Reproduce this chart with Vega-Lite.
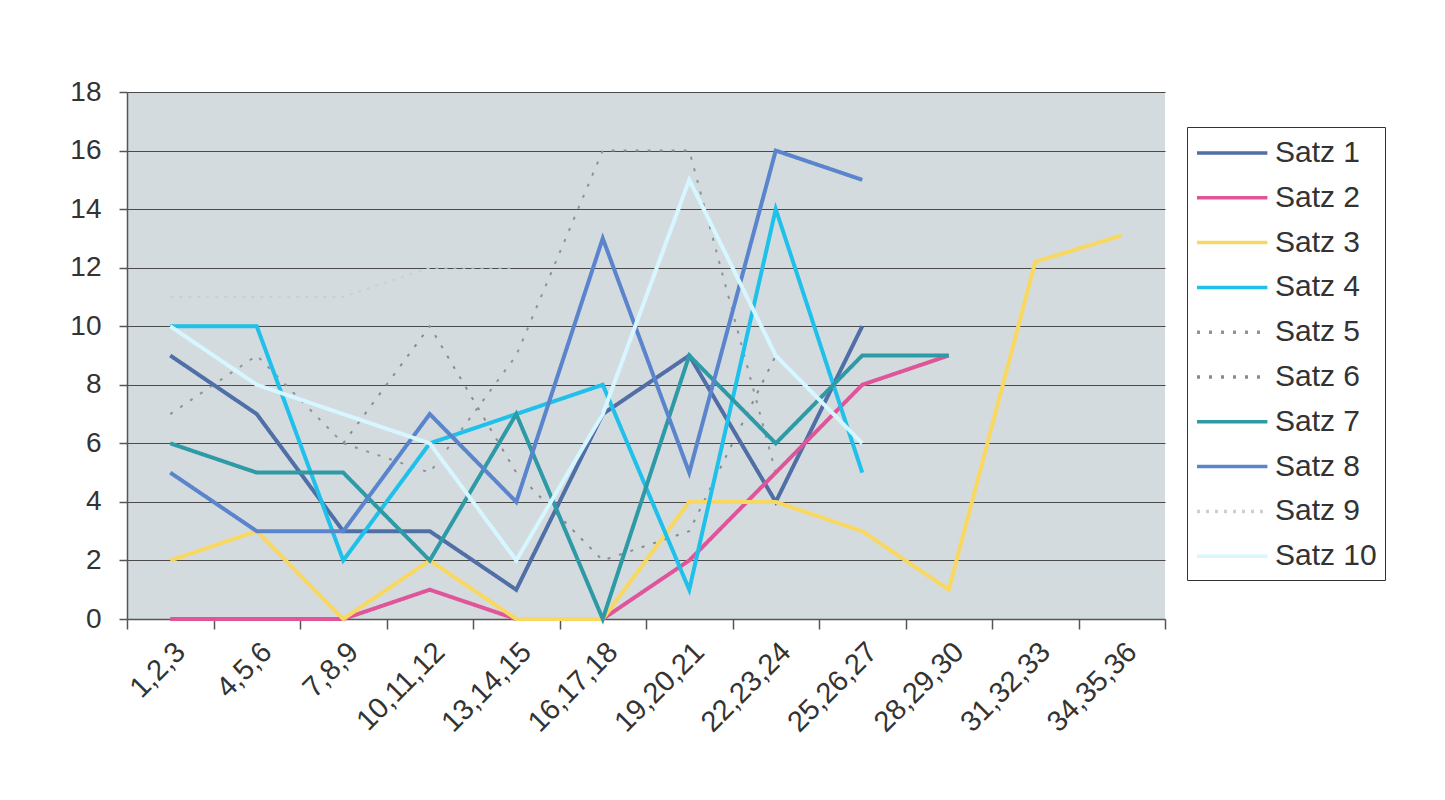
{
  "$schema": "https://vega.github.io/schema/vega-lite/v6.json",
  "width": 1038,
  "height": 527,
  "autosize": {"type": "none"},
  "padding": {"left": 127, "top": 92, "right": 280, "bottom": 181},
  "background": "white",
  "config": {
    "view": {"fill": "#d4dbdf", "stroke": null},
    "font": "Liberation Sans"
  },
  "data": {
    "values": [
      {"s": "Satz 1", "k": "1,2,3", "v": 9}, {"s": "Satz 1", "k": "4,5,6", "v": 7}, {"s": "Satz 1", "k": "7,8,9", "v": 3}, {"s": "Satz 1", "k": "10,11,12", "v": 3}, {"s": "Satz 1", "k": "13,14,15", "v": 1}, {"s": "Satz 1", "k": "16,17,18", "v": 7}, {"s": "Satz 1", "k": "19,20,21", "v": 9}, {"s": "Satz 1", "k": "22,23,24", "v": 4}, {"s": "Satz 1", "k": "25,26,27", "v": 10},
      {"s": "Satz 2", "k": "1,2,3", "v": 0}, {"s": "Satz 2", "k": "4,5,6", "v": 0}, {"s": "Satz 2", "k": "7,8,9", "v": 0}, {"s": "Satz 2", "k": "10,11,12", "v": 1}, {"s": "Satz 2", "k": "13,14,15", "v": 0}, {"s": "Satz 2", "k": "16,17,18", "v": 0}, {"s": "Satz 2", "k": "19,20,21", "v": 2}, {"s": "Satz 2", "k": "22,23,24", "v": 5}, {"s": "Satz 2", "k": "25,26,27", "v": 8}, {"s": "Satz 2", "k": "28,29,30", "v": 9},
      {"s": "Satz 3", "k": "1,2,3", "v": 2}, {"s": "Satz 3", "k": "4,5,6", "v": 3}, {"s": "Satz 3", "k": "7,8,9", "v": 0}, {"s": "Satz 3", "k": "10,11,12", "v": 2}, {"s": "Satz 3", "k": "13,14,15", "v": 0}, {"s": "Satz 3", "k": "16,17,18", "v": 0}, {"s": "Satz 3", "k": "19,20,21", "v": 4}, {"s": "Satz 3", "k": "22,23,24", "v": 4}, {"s": "Satz 3", "k": "25,26,27", "v": 3}, {"s": "Satz 3", "k": "28,29,30", "v": 1}, {"s": "Satz 3", "k": "31,32,33", "v": 12.2}, {"s": "Satz 3", "k": "34,35,36", "v": 13.1},
      {"s": "Satz 4", "k": "1,2,3", "v": 10}, {"s": "Satz 4", "k": "4,5,6", "v": 10}, {"s": "Satz 4", "k": "7,8,9", "v": 2}, {"s": "Satz 4", "k": "10,11,12", "v": 6}, {"s": "Satz 4", "k": "13,14,15", "v": 7}, {"s": "Satz 4", "k": "16,17,18", "v": 8}, {"s": "Satz 4", "k": "19,20,21", "v": 1}, {"s": "Satz 4", "k": "22,23,24", "v": 14}, {"s": "Satz 4", "k": "25,26,27", "v": 5},
      {"s": "Satz 5", "k": "1,2,3", "v": 7}, {"s": "Satz 5", "k": "4,5,6", "v": 9}, {"s": "Satz 5", "k": "7,8,9", "v": 6}, {"s": "Satz 5", "k": "10,11,12", "v": 5}, {"s": "Satz 5", "k": "13,14,15", "v": 9}, {"s": "Satz 5", "k": "16,17,18", "v": 16}, {"s": "Satz 5", "k": "19,20,21", "v": 16}, {"s": "Satz 5", "k": "22,23,24", "v": 5},
      {"s": "Satz 6", "k": "7,8,9", "v": 6}, {"s": "Satz 6", "k": "10,11,12", "v": 10}, {"s": "Satz 6", "k": "13,14,15", "v": 5}, {"s": "Satz 6", "k": "16,17,18", "v": 2}, {"s": "Satz 6", "k": "19,20,21", "v": 3}, {"s": "Satz 6", "k": "22,23,24", "v": 9},
      {"s": "Satz 7", "k": "1,2,3", "v": 6}, {"s": "Satz 7", "k": "4,5,6", "v": 5}, {"s": "Satz 7", "k": "7,8,9", "v": 5}, {"s": "Satz 7", "k": "10,11,12", "v": 2}, {"s": "Satz 7", "k": "13,14,15", "v": 7}, {"s": "Satz 7", "k": "16,17,18", "v": 0}, {"s": "Satz 7", "k": "19,20,21", "v": 9}, {"s": "Satz 7", "k": "22,23,24", "v": 6}, {"s": "Satz 7", "k": "25,26,27", "v": 9}, {"s": "Satz 7", "k": "28,29,30", "v": 9},
      {"s": "Satz 8", "k": "1,2,3", "v": 5}, {"s": "Satz 8", "k": "4,5,6", "v": 3}, {"s": "Satz 8", "k": "7,8,9", "v": 3}, {"s": "Satz 8", "k": "10,11,12", "v": 7}, {"s": "Satz 8", "k": "13,14,15", "v": 4}, {"s": "Satz 8", "k": "16,17,18", "v": 13}, {"s": "Satz 8", "k": "19,20,21", "v": 5}, {"s": "Satz 8", "k": "22,23,24", "v": 16}, {"s": "Satz 8", "k": "25,26,27", "v": 15},
      {"s": "Satz 9", "k": "1,2,3", "v": 11}, {"s": "Satz 9", "k": "4,5,6", "v": 11}, {"s": "Satz 9", "k": "7,8,9", "v": 11}, {"s": "Satz 9", "k": "10,11,12", "v": 12}, {"s": "Satz 9", "k": "13,14,15", "v": 12},
      {"s": "Satz 10", "k": "1,2,3", "v": 10}, {"s": "Satz 10", "k": "4,5,6", "v": 8}, {"s": "Satz 10", "k": "7,8,9", "v": 7}, {"s": "Satz 10", "k": "10,11,12", "v": 6}, {"s": "Satz 10", "k": "13,14,15", "v": 2}, {"s": "Satz 10", "k": "16,17,18", "v": 7}, {"s": "Satz 10", "k": "19,20,21", "v": 15}, {"s": "Satz 10", "k": "22,23,24", "v": 9}, {"s": "Satz 10", "k": "25,26,27", "v": 6}
    ]
  },
  "encoding": {
    "x": {
      "field": "k", "type": "ordinal", "bandPosition": 0.5,
      "scale": {"type": "band", "paddingInner": 0, "paddingOuter": 0,
        "domain": ["1,2,3", "4,5,6", "7,8,9", "10,11,12", "13,14,15", "16,17,18", "19,20,21", "22,23,24", "25,26,27", "28,29,30", "31,32,33", "34,35,36"]},
      "axis": {"title": null, "tickBand": "extent", "labelAngle": -45, "labelFontSize": 29, "labelColor": "#333", "labelOverlap": false,
        "tickSize": 10, "tickColor": "#555", "tickWidth": 1.5, "domainColor": "#555", "domainWidth": 1.5, "labelPadding": 8, "grid": false}
    },
    "y": {
      "field": "v", "type": "quantitative",
      "scale": {"domain": [0, 18], "nice": false},
      "axis": {"title": null, "values": [0, 2, 4, 6, 8, 10, 12, 14, 16, 18], "grid": true, "gridColor": "#4a4a4a", "gridWidth": 1.2,
        "domainColor": "#555", "domainWidth": 1.5, "tickColor": "#555", "tickWidth": 1.5, "tickSize": 8, "labelFontSize": 28, "labelColor": "#333", "labelPadding": 18}
    },
    "color": {
      "field": "s", "type": "nominal",
      "scale": {"domain": ["Satz 1", "Satz 2", "Satz 3", "Satz 4", "Satz 5", "Satz 6", "Satz 7", "Satz 8", "Satz 9", "Satz 10"],
        "range": ["#4f6fa6", "#e0559a", "#f8d860", "#1fc0ea", "#8c949b", "#858c94", "#2e9aa6", "#5a84cc", "#c8d0d4", "#d6f7ff"]},
      "legend": {"title": null, "orient": "none", "legendX": 1060, "legendY": 35, "padding": 8, "strokeColor": "#333", "fillColor": "white",
        "labelFontSize": 30, "labelColor": "#333", "symbolType": "M-1,0H3.4", "symbolSize": 1024, "symbolStrokeWidth": 3.5,
        "labelOffset": 44, "rowPadding": 11.8}
    },
    "strokeDash": {
      "field": "s", "type": "nominal",
      "scale": {"domain": ["Satz 1", "Satz 2", "Satz 3", "Satz 4", "Satz 5", "Satz 6", "Satz 7", "Satz 8", "Satz 9", "Satz 10"],
        "range": [[1, 0], [1, 0], [1, 0], [1, 0], [3, 9], [3, 9], [1, 0], [1, 0], [3, 6], [1, 0]]},
      "legend": {"title": null, "orient": "none", "legendX": 1060, "legendY": 35, "padding": 8, "strokeColor": "#333", "fillColor": "white",
        "labelFontSize": 30, "labelColor": "#333", "symbolType": "M-1,0H3.4", "symbolSize": 1024, "symbolStrokeWidth": 3.5,
        "labelOffset": 44, "rowPadding": 11.8}
    }
  },
  "layer": [
    {
      "transform": [{"filter": "indexof(['Satz 5','Satz 6','Satz 9'], datum.s) >= 0"}],
      "mark": {"type": "line", "strokeWidth": 2}
    },
    {
      "transform": [{"filter": "indexof(['Satz 5','Satz 6','Satz 9'], datum.s) < 0"}],
      "mark": {"type": "line", "strokeWidth": 4}
    }
  ]
}
